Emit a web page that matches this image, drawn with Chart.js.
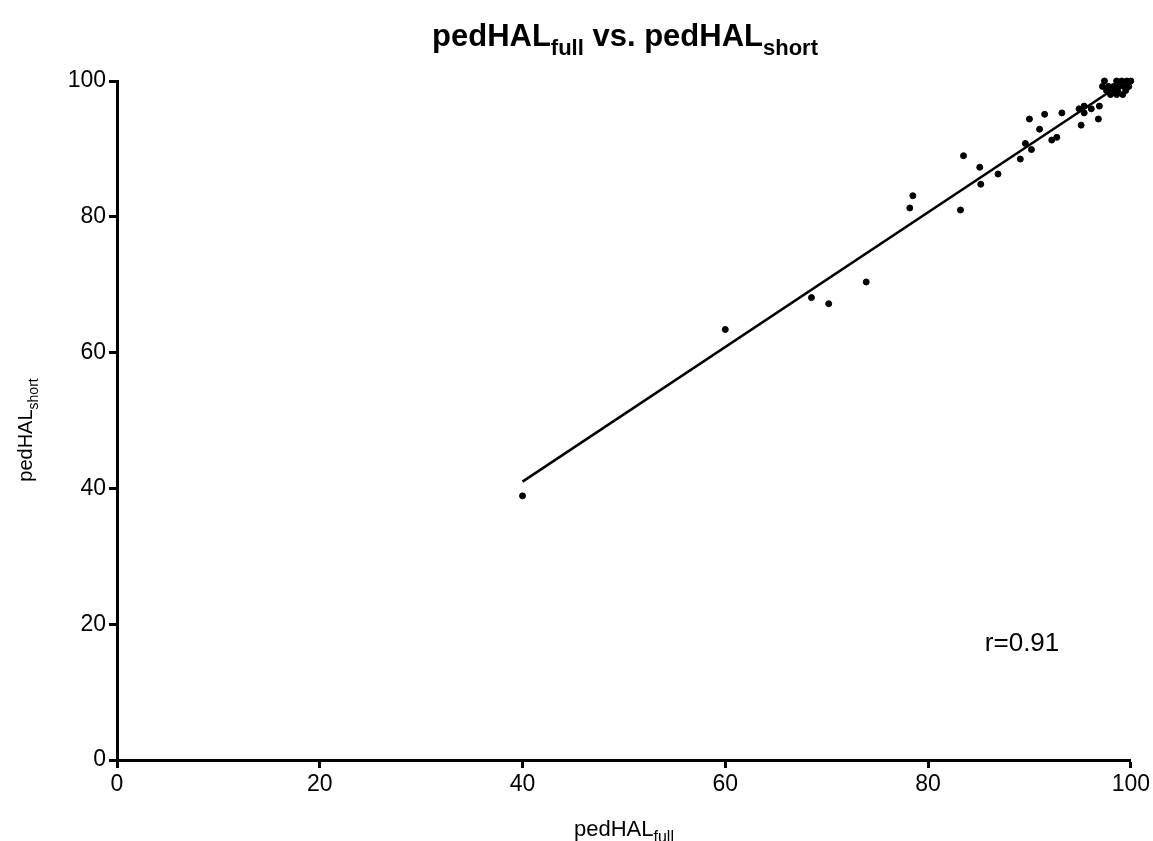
<!DOCTYPE html>
<html>
<head>
<meta charset="utf-8">
<script src="https://cdn.jsdelivr.net/npm/chart.js@4/dist/chart.umd.min.js"></script>
<style>
  html, body { margin: 0; padding: 0; background: #fff; }
  #wrap { width: 1153px; height: 841px; }
</style>
</head>
<body>
<div id="wrap"><canvas id="scatterChart"></canvas></div>
<script>
// pedHAL full vs short scores
const fullScores = [40.0, 60.0, 68.5, 70.2, 73.9, 78.2, 78.5, 83.2, 83.5, 85.1, 85.2, 86.9,
  89.1, 89.6, 90.0, 90.2, 91.0, 91.5, 92.2, 92.7, 93.2, 94.9, 95.1, 95.4, 95.4, 96.1, 96.8, 96.9,
  97.4, 98.6, 99.1, 99.6, 100.0,
  97.2, 97.8, 98.3, 98.8, 99.3, 99.8,
  97.6, 98.2, 98.7, 99.5,
  98.0, 98.6, 99.2];
const shortScores = [38.9, 63.4, 68.1, 67.2, 70.4, 81.3, 83.1, 81.0, 89.0, 87.3, 84.8, 86.3,
  88.5, 90.8, 94.4, 89.9, 92.9, 95.1, 91.3, 91.7, 95.3, 95.9, 93.5, 96.3, 95.3, 95.9, 94.4, 96.3,
  100, 100, 100, 100, 100,
  99.2, 99.2, 99.2, 99.2, 99.2, 99.2,
  98.6, 98.6, 98.6, 98.6,
  98.0, 98.0, 98.0];

// regression line end points
const fitX = [40.0, 98.8];
const fitY = [41.0, 99.3];

const tickValues = [0, 20, 40, 60, 80, 100];
const rLabel = 'r=0.91';

const FONT = '"Liberation Sans", Arial, Helvetica, sans-serif';

const points = fullScores.map((v, i) => ({ x: v, y: shortScores[i] }));
const fitLine = fitX.map((v, i) => ({ x: v, y: fitY[i] }));

// draw "main" + subscript pieces centred on cx
function drawSubText(ctx, parts, cx, base, size, subSize, weight) {
  const mainF = weight + ' ' + size + 'px ' + FONT;
  const subF = weight + ' ' + subSize + 'px ' + FONT;
  let total = 0;
  parts.forEach(p => {
    ctx.font = mainF; total += ctx.measureText(p[0]).width;
    ctx.font = subF; total += ctx.measureText(p[1]).width;
  });
  let x = cx - total / 2;
  ctx.textAlign = 'left';
  ctx.textBaseline = 'alphabetic';
  parts.forEach(p => {
    ctx.font = mainF; ctx.fillText(p[0], x, base); x += ctx.measureText(p[0]).width;
    ctx.font = subF; ctx.fillText(p[1], x, base + size * 0.28); x += ctx.measureText(p[1]).width;
  });
}

const textPlugin = {
  id: 'texts',
  afterDraw(chart) {
    const ctx = chart.ctx;
    const xs = chart.scales.x, ys = chart.scales.y;
    ctx.save();
    ctx.fillStyle = '#000';
    // title
    drawSubText(ctx, [['pedHAL', 'full'], [' vs. pedHAL', 'short']], 625, 46, 31, 22, 'bold');
    // x axis title
    drawSubText(ctx, [['pedHAL', 'full']], 624, 836, 22, 16, 'normal');
    // y axis title
    ctx.save();
    ctx.translate(32, 430);
    ctx.rotate(-Math.PI / 2);
    drawSubText(ctx, [['pedHAL', 'short']], 0, 0, 20, 14, 'normal');
    ctx.restore();
    // correlation
    ctx.font = '26px ' + FONT;
    ctx.textAlign = 'left';
    ctx.fillText(rLabel, xs.getPixelForValue(85.6), ys.getPixelForValue(16.0));
    ctx.restore();
  }
};

const axisCommon = {
  type: 'linear',
  min: 0,
  max: 100,
  afterBuildTicks: s => { s.ticks = tickValues.map(v => ({ value: v })); },
  ticks: { color: '#000', font: { family: FONT, size: 23 }, padding: 3 },
  border: { display: true, color: '#000', width: 3 },
  grid: { display: true, drawOnChartArea: false, drawTicks: true, tickLength: 8, tickWidth: 3, tickColor: '#000', color: '#000' }
};

new Chart(document.getElementById('scatterChart'), {
  type: 'scatter',
  data: {
    datasets: [
      {
        label: 'scores',
        data: points,
        backgroundColor: '#000',
        borderColor: '#000',
        pointRadius: 3,
        pointHoverRadius: 3,
        clip: false
      },
      {
        label: 'fit',
        data: fitLine,
        showLine: true,
        borderColor: '#000',
        borderWidth: 2.5,
        pointRadius: 0,
        fill: false,
        clip: false
      }
    ]
  },
  options: {
    responsive: true,
    maintainAspectRatio: false,
    animation: false,
    layout: { padding: { top: 81, right: 21, left: 0, bottom: 0 } },
    plugins: { legend: { display: false }, tooltip: { enabled: false } },
    scales: {
      x: Object.assign({}, axisCommon, { afterFit: s => { s.height = 81; } }),
      y: Object.assign({}, axisCommon, { afterFit: s => { s.width = 117; } })
    }
  },
  plugins: [textPlugin]
});
</script>
</body>
</html>
